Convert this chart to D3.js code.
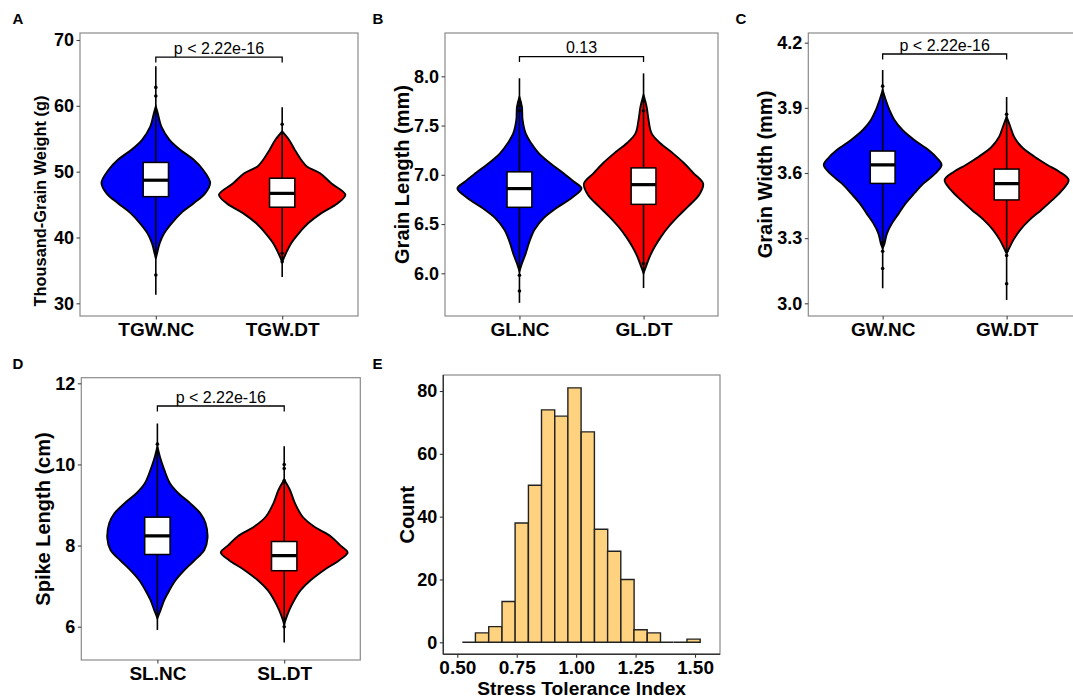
<!DOCTYPE html>
<html><head><meta charset="utf-8">
<script src="https://cdn.jsdelivr.net/npm/d3@7"></script>
<style>
body{margin:0;background:#fff}
svg{display:block}
text{font-family:"Liberation Sans",Arial,Helvetica,sans-serif}
</style>
</head><body>
<svg id="chart" width="1073" height="699"></svg>
<script>
// ---------------- DATA ----------------
const tgwCategories = ["TGW.NC", "TGW.DT"];
const glCategories = ["GL.NC", "GL.DT"];
const gwCategories = ["GW.NC", "GW.DT"];
const slCategories = ["SL.NC", "SL.DT"];

const tgwTicks = [30, 40, 50, 60, 70];
const glTicks = [6.0, 6.5, 7.0, 7.5, 8.0];
const gwTicks = [3.0, 3.3, 3.6, 3.9, 4.2];
const slTicks = [6, 8, 10, 12];

// violin profiles: [value, relative density]
const tgwNCProfile = [[59.9,0],[58.9,0.03],[56.8,0.09],[54.8,0.22],[53.3,0.39],[51.8,0.60],[50.25,0.75],[48.3,0.86],[46.7,0.78],[45.2,0.60],[43.7,0.40],[42.15,0.25],[40.6,0.13],[39.1,0.06],[37.6,0.02],[36.8,0]];
const tgwDTProfile = [[56.1,0],[54.8,0.11],[53.3,0.20],[51.8,0.30],[50.8,0.39],[49.75,0.60],[48.2,0.78],[46.5,1.0],[45.2,0.88],[43.7,0.62],[42.15,0.41],[40.6,0.26],[39.1,0.14],[37.6,0.06],[36.3,0]];
const glNCProfile = [[7.79,0],[7.69,0.04],[7.56,0.05],[7.42,0.10],[7.32,0.19],[7.22,0.31],[7.12,0.49],[7.02,0.70],[6.93,0.88],[6.86,1.0],[6.76,0.83],[6.66,0.59],[6.56,0.39],[6.44,0.24],[6.32,0.16],[6.20,0.10],[6.10,0.04],[6.02,0]];
const glDTProfile = [[7.81,0],[7.69,0.05],[7.56,0.08],[7.42,0.13],[7.32,0.27],[7.22,0.47],[7.12,0.65],[7.02,0.80],[6.91,0.96],[6.80,0.90],[6.68,0.72],[6.58,0.56],[6.47,0.40],[6.37,0.28],[6.27,0.18],[6.17,0.10],[6.07,0.04],[6.00,0]];
const gwNCProfile = [[3.982,0],[3.936,0.05],[3.890,0.11],[3.844,0.19],[3.798,0.32],[3.752,0.51],[3.706,0.74],[3.668,0.88],[3.637,0.95],[3.598,0.85],[3.552,0.66],[3.506,0.51],[3.460,0.37],[3.414,0.26],[3.368,0.15],[3.322,0.07],[3.276,0.03],[3.253,0]];
const gwDTProfile = [[3.859,0],[3.813,0.06],[3.767,0.12],[3.721,0.24],[3.675,0.45],[3.637,0.66],[3.606,0.85],[3.568,1.0],[3.522,0.90],[3.476,0.74],[3.430,0.56],[3.384,0.37],[3.338,0.22],[3.292,0.11],[3.253,0.04],[3.230,0]];
const slNCProfile = [[10.44,0],[10.19,0.04],[9.86,0.11],[9.53,0.20],[9.29,0.33],[9.04,0.52],[8.79,0.68],[8.55,0.76],[8.18,0.79],[7.89,0.74],[7.64,0.59],[7.40,0.43],[7.15,0.29],[6.90,0.19],[6.66,0.11],[6.41,0.05],[6.21,0]];
const slDTProfile = [[9.62,0],[9.37,0.09],[9.04,0.17],[8.71,0.29],[8.47,0.47],[8.22,0.74],[8.01,0.88],[7.83,1.0],[7.64,0.87],[7.40,0.63],[7.15,0.42],[6.90,0.26],[6.66,0.16],[6.41,0.08],[6.16,0.02],[6.04,0]];

// box stats: [min, q1, median, q3, max]
const tgwNCBox = [31.3, 46.2, 48.7, 51.4, 66.0];
const tgwDTBox = [34.0, 44.6, 46.7, 49.0, 59.8];
const glNCBox = [5.70, 6.67, 6.86, 7.03, 7.98];
const glDTBox = [5.85, 6.70, 6.90, 7.07, 8.03];
const gwNCBox = [3.069, 3.552, 3.637, 3.701, 4.074];
const gwDTBox = [3.015, 3.476, 3.551, 3.618, 3.95];
const slNCBox = [5.92, 7.78, 8.24, 8.70, 11.01];
const slDTBox = [5.61, 7.38, 7.75, 8.10, 10.45];

// outlier points
const tgwNCOut = [62.8, 61.5, 34.3];
const tgwDTOut = [57.2, 37.6, 36.3];
const glNCOut = [7.74, 7.70, 7.65, 5.98, 5.82];
const glDTOut = [7.75, 7.65, 6.10];
const gwNCOut = [4.0, 3.28, 3.24, 3.16];
const gwDTOut = [3.87, 3.24, 3.22, 3.09];
const slNCOut = [10.5];
const slDTOut = [10.0, 9.9, 9.6, 6.0];

// significance brackets: [value level, label]
const tgwBracket = [67.4, "p < 2.22e-16"];
const glBracket = [8.2, "0.13"];
const gwBracket = [4.148, "p < 2.22e-16"];
const slBracket = [11.44, "p < 2.22e-16"];

// histogram (panel E)
const stiBinCenters = [0.549,0.604,0.660,0.716,0.771,0.827,0.882,0.938,0.993,1.049,1.105,1.160,1.216,1.271,1.327,1.382,1.438,1.494];
const stiCounts = [0,3,5,13,38,50,74,72,81,67,36,29,20,4,3,0,0,1];
const stiBinWidth = 0.0556;
const stiXTicks = [0.50, 0.75, 1.00, 1.25, 1.50];
const stiYTicks = [0, 20, 40, 60, 80];

// ---------------- DRAWING ----------------
const svg = d3.select("#chart");
const fillColors = ["#0000FF", "#FF0000"];
const borderColor = "#8a8a8a";
const tickColor = "#444";
const FONT = '"Liberation Sans",Arial,sans-serif';

function panelLabel(txt, x, y) {
  svg.append("text").attr("x", x).attr("y", y).attr("font-size", 15).attr("font-weight", "bold").text(txt);
}

function violinPanel(cfg) {
  const g = svg.append("g");
  const x = d3.scalePoint().domain(cfg.cats).range([cfg.left, cfg.right]).padding(0.6);
  const y = d3.scaleLinear().domain(cfg.yDomain).range(cfg.yRange);
  const step = x.step();
  const wScale = d3.scaleLinear().domain([0, 1]).range([0, 0.5 * step]);

  const clipId = "clip" + cfg.label;
  svg.append("clipPath").attr("id", clipId).append("rect")
    .attr("x", cfg.left).attr("y", cfg.top).attr("width", cfg.right - cfg.left).attr("height", cfg.bottom - cfg.top);
  const pg = g.append("g").attr("clip-path", `url(#${clipId})`);

  cfg.cats.forEach((c, i) => {
    const cx = x(c);
    const area = d3.area()
      .y(d => y(d[0]))
      .x0(d => cx - wScale(d[1]))
      .x1(d => cx + wScale(d[1]))
      .curve(d3.curveCatmullRom.alpha(0.5));
    pg.append("path").attr("d", area(cfg.profiles[i]))
      .attr("fill", fillColors[i]).attr("stroke", "#000").attr("stroke-width", 1.9);
    const b = cfg.boxes[i];
    pg.append("line").attr("x1", cx).attr("x2", cx).attr("y1", y(b[0])).attr("y2", y(b[4]))
      .attr("stroke", "#000").attr("stroke-width", 1.6);
    pg.selectAll(null).data(cfg.outliers[i]).enter().append("circle")
      .attr("cx", cx).attr("cy", d => y(d)).attr("r", 1.8).attr("fill", "#000");
    const bw = 0.2 * step;
    pg.append("rect").attr("x", cx - bw / 2).attr("width", bw)
      .attr("y", y(b[3])).attr("height", y(b[1]) - y(b[3]))
      .attr("fill", "#fff").attr("stroke", "#000").attr("stroke-width", 1.5);
    pg.append("line").attr("x1", cx - bw / 2).attr("x2", cx + bw / 2).attr("y1", y(b[2])).attr("y2", y(b[2]))
      .attr("stroke", "#000").attr("stroke-width", 3.2);
  });

  const by = y(cfg.bracket[0]);
  const x1 = x(cfg.cats[0]), x2 = x(cfg.cats[1]);
  pg.append("path").attr("d", `M${x1},${by + 5.5}V${by}H${x2}V${by + 5.5}`)
    .attr("fill", "none").attr("stroke", "#000").attr("stroke-width", 1.3);
  g.append("text").attr("x", (x1 + x2) / 2).attr("y", by - 3.3).attr("text-anchor", "middle")
    .attr("font-size", 16).text(cfg.bracket[1]);

  g.append("rect").attr("x", cfg.left).attr("y", cfg.top).attr("width", cfg.right - cfg.left).attr("height", cfg.bottom - cfg.top)
    .attr("fill", "none").attr("stroke", borderColor).attr("stroke-width", 1.2);

  const yAxis = d3.axisLeft(y).tickValues(cfg.ticks).tickSize(3.5).tickPadding(2.5).tickFormat(cfg.fmt);
  const ya = g.append("g").attr("transform", `translate(${cfg.left},0)`).call(yAxis);
  ya.select(".domain").remove();
  ya.selectAll(".tick line").attr("stroke", tickColor).attr("stroke-width", 1.1);
  ya.selectAll(".tick text").attr("font-size", 18).attr("font-weight", "bold").attr("fill", "#000").attr("font-family", FONT);

  const xAxis = d3.axisBottom(x).tickSize(3.5).tickPadding(3);
  const xa = g.append("g").attr("transform", `translate(0,${cfg.bottom})`).call(xAxis);
  xa.select(".domain").remove();
  xa.selectAll(".tick line").attr("stroke", tickColor).attr("stroke-width", 1.1);
  xa.selectAll(".tick text").attr("font-size", 19).attr("font-weight", "bold").attr("fill", "#000").attr("font-family", FONT);

  g.append("text").attr("transform", `translate(${cfg.titleX},${cfg.titleY}) rotate(-90)`)
    .attr("text-anchor", "middle").attr("dy", "0.35em").attr("font-size", cfg.titleSize)
    .attr("font-weight", "bold").text(cfg.title);

  panelLabel(cfg.label, cfg.labelX, cfg.labelY);
}

violinPanel({label: "A", labelX: 12.5, labelY: 24, cats: tgwCategories, profiles: [tgwNCProfile, tgwDTProfile],
  boxes: [tgwNCBox, tgwDTBox], outliers: [tgwNCOut, tgwDTOut], bracket: tgwBracket, ticks: tgwTicks, fmt: d3.format("d"),
  left: 80, right: 358, top: 33, bottom: 316, yDomain: [30, 70], yRange: [303.3, 40],
  title: "Thousand-Grain Weight (g)", titleX: 40, titleY: 201, titleSize: 16.4});

violinPanel({label: "B", labelX: 372.5, labelY: 24, cats: glCategories, profiles: [glNCProfile, glDTProfile],
  boxes: [glNCBox, glDTBox], outliers: [glNCOut, glDTOut], bracket: glBracket, ticks: glTicks, fmt: d3.format(".1f"),
  left: 445, right: 718, top: 33, bottom: 316, yDomain: [6.0, 8.0], yRange: [273.3, 76.3],
  title: "Grain Length (mm)", titleX: 401.5, titleY: 174.5, titleSize: 20});

violinPanel({label: "C", labelX: 735.5, labelY: 24, cats: gwCategories, profiles: [gwNCProfile, gwDTProfile],
  boxes: [gwNCBox, gwDTBox], outliers: [gwNCOut, gwDTOut], bracket: gwBracket, ticks: gwTicks, fmt: d3.format(".1f"),
  left: 808.3, right: 1081, top: 33, bottom: 316, yDomain: [3.0, 4.2], yRange: [303.3, 42.7],
  title: "Grain Width (mm)", titleX: 764.5, titleY: 174.5, titleSize: 20});

violinPanel({label: "D", labelX: 12.5, labelY: 368.5, cats: slCategories, profiles: [slNCProfile, slDTProfile],
  boxes: [slNCBox, slDTBox], outliers: [slNCOut, slDTOut], bracket: slBracket, ticks: slTicks, fmt: d3.format("d"),
  left: 81.3, right: 360.3, top: 377.7, bottom: 660, yDomain: [6, 12], yRange: [626.7, 383.3],
  title: "Spike Length (cm)", titleX: 43, titleY: 519, titleSize: 20});

// ---------------- Panel E: histogram ----------------
(function () {
  const L = 443.3, R = 720, T = 375, B = 654.3;
  const x = d3.scaleLinear().domain([0.5, 1.5]).range([457.3, 695]);
  const y = d3.scaleLinear().domain([0, 80]).range([642.3, 391]);
  const g = svg.append("g");
  g.append("rect").attr("x", L).attr("y", T).attr("width", R - L).attr("height", B - T)
    .attr("fill", "none").attr("stroke", borderColor).attr("stroke-width", 1.2);
  const bars = stiBinCenters.map((c, i) => ({c, n: stiCounts[i]}));
  g.selectAll(null).data(bars).enter().append("path")
    .attr("d", d => {
      const x0 = x(d.c - stiBinWidth / 2), x1 = x(d.c + stiBinWidth / 2);
      return `M${x0},${y(0)}V${y(d.n)}H${x1}V${y(0)}Z`;
    })
    .attr("fill", "#FFD27F").attr("stroke", "#222").attr("stroke-width", 1.4);

  const yAxis = d3.axisLeft(y).tickValues(stiYTicks).tickSize(3.5).tickPadding(2.5);
  const ya = g.append("g").attr("transform", `translate(${L},0)`).call(yAxis);
  ya.select(".domain").attr("d", `M0,${T}V${B}`).attr("stroke", "#333").attr("stroke-width", 1.4);
  ya.selectAll(".tick line").attr("stroke", "#333").attr("stroke-width", 1.1);
  ya.selectAll(".tick text").attr("font-size", 18).attr("font-weight", "bold").attr("fill", "#000").attr("font-family", FONT);

  const xAxis = d3.axisBottom(x).tickValues(stiXTicks).tickSize(3.5).tickPadding(3).tickFormat(d3.format(".2f"));
  const xa = g.append("g").attr("transform", `translate(0,${B})`).call(xAxis);
  xa.select(".domain").attr("d", `M${L},0H${R}`).attr("stroke", "#333").attr("stroke-width", 1.4);
  xa.selectAll(".tick line").attr("stroke", "#333").attr("stroke-width", 1.1);
  xa.selectAll(".tick text").attr("font-size", 19).attr("font-weight", "bold").attr("fill", "#000").attr("font-family", FONT);

  g.append("text").attr("transform", `translate(406.5,${(T + B) / 2}) rotate(-90)`)
    .attr("text-anchor", "middle").attr("dy", "0.35em").attr("font-size", 20).attr("font-weight", "bold").text("Count");
  g.append("text").attr("x", (L + R) / 2).attr("y", 695).attr("text-anchor", "middle")
    .attr("font-size", 19.2).attr("font-weight", "bold").text("Stress Tolerance Index");
  panelLabel("E", 372.5, 368.5);
})();
</script>
</body></html>
